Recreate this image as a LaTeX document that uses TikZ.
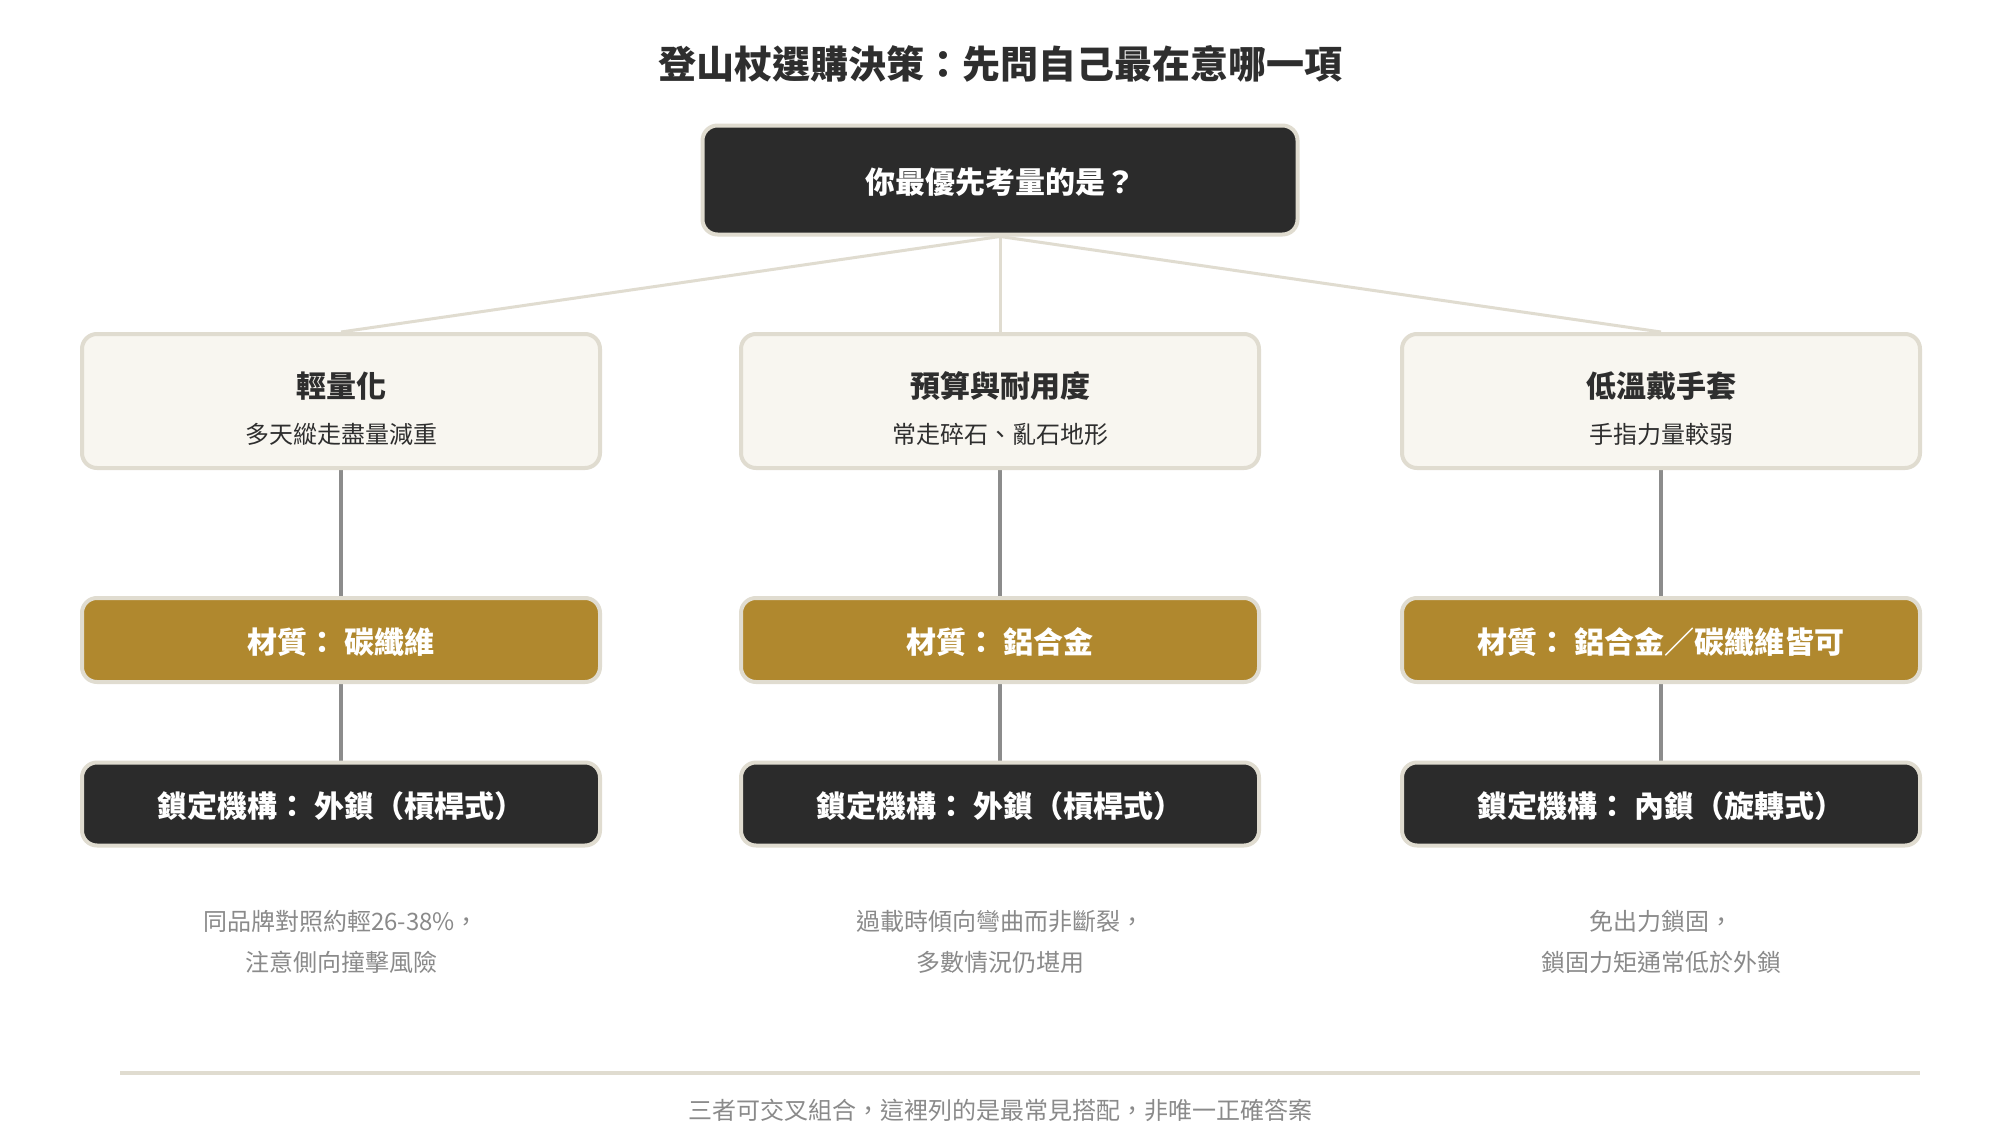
\documentclass[tikz,border=0pt]{standalone}
\usepackage{fontspec}
\setmainfont{Noto Sans CJK TC}
\usetikzlibrary{backgrounds}
\definecolor{darkbox}{HTML}{2B2B2B}
\definecolor{edgebeige}{HTML}{E0DCD0}
\definecolor{paper}{HTML}{F8F6F0}
\definecolor{gold}{HTML}{B0882E}
\definecolor{inkdark}{HTML}{2E2E2E}
\definecolor{notegray}{HTML}{8A8A8A}
\definecolor{stemgray}{HTML}{8C8C8C}
\tikzset{
  boxbase/.style={draw=edgebeige, line width=4pt, rounded corners=15pt, inner sep=0pt},
  rootbox/.style={boxbase, fill=darkbox, minimum width=595pt, minimum height=109pt},
  optbox/.style={boxbase, fill=paper, minimum width=518pt, minimum height=134pt},
  matbox/.style={boxbase, fill=gold, minimum width=518pt, minimum height=84pt},
  lockbox/.style={boxbase, fill=darkbox, minimum width=518pt, minimum height=83pt},
  boldwhite/.style={text=white, font=\fontsize{30}{35}\selectfont\bfseries, inner sep=0pt},
  opttitle/.style={text=inkdark, font=\fontsize{30}{35}\selectfont\bfseries, inner sep=0pt},
  optsub/.style={text=inkdark, font=\fontsize{24}{28}\selectfont, inner sep=0pt},
  notetext/.style={text=notegray, font=\fontsize{24}{41}\selectfont, align=center, inner sep=0pt},
  fanline/.style={draw=edgebeige, line width=3pt},
  stemline/.style={draw=stemgray, line width=3.5pt},
}
\begin{document}
\begin{tikzpicture}[x=1pt,y=-1pt]
\useasboundingbox (0,0) rectangle (2000,1140);

\node[text=inkdark, font=\fontsize{38}{44}\selectfont\bfseries, inner sep=0pt] (title) at (1000,64) {登山杖選購決策：先問自己最在意哪一項};

\node[rootbox] (root) at (1000,180) {};
\node[boldwhite] (roottxt) at (1000,182) {你最優先考量的是？};

% option boxes
\node[optbox] (o1) at (341,401) {};
\node[optbox] (o2) at (1000,401) {};
\node[optbox] (o3) at (1661,401) {};
\node[opttitle] (o1t) at (341,386) {輕量化};
\node[opttitle] (o2t) at (1000,386) {預算與耐用度};
\node[opttitle] (o3t) at (1661,386) {低溫戴手套};
\node[optsub] (o1s) at (341,434) {多天縱走盡量減重};
\node[optsub] (o2s) at (1000,434) {常走碎石、亂石地形};
\node[optsub] (o3s) at (1661,434) {手指力量較弱};

% material boxes
\node[matbox] (m1) at (341,640) {};
\node[matbox] (m2) at (1000,640) {};
\node[matbox] (m3) at (1661,640) {};
\node[boldwhite] (m1t) at (341,642) {材質： 碳纖維};
\node[boldwhite] (m2t) at (1000,642) {材質： 鋁合金};
\node[boldwhite] (m3t) at (1661,642) {材質： 鋁合金／碳纖維皆可};

% lock boxes
\node[lockbox] (k1) at (341,804) {};
\node[lockbox] (k2) at (1000,804) {};
\node[lockbox] (k3) at (1661,804) {};
\node[boldwhite] (k1t) at (341,806) {鎖定機構： 外鎖（槓桿式）};
\node[boldwhite] (k2t) at (1000,806) {鎖定機構： 外鎖（槓桿式）};
\node[boldwhite] (k3t) at (1661,806) {鎖定機構： 內鎖（旋轉式）};

% notes
\node[notetext] (n1) at (341,942) {同品牌對照約輕26-38\%，\\注意側向撞擊風險};
\node[notetext] (n2) at (1000,942) {過載時傾向彎曲而非斷裂，\\多數情況仍堪用};
\node[notetext] (n3) at (1661,942) {免出力鎖固，\\鎖固力矩通常低於外鎖};

% footer
\coordinate (fl) at (120,1073);
\coordinate (fr) at (1920,1073);
\draw[draw=edgebeige, line width=4pt] (fl) -- (fr);
\node[text=notegray, font=\fontsize{24}{28}\selectfont, inner sep=0pt] (foot) at (1000,1110) {三者可交叉組合，這裡列的是最常見搭配，非唯一正確答案};

\begin{pgfonlayer}{background}
\fill[white] (0,0) rectangle (2000,1140);
\draw[fanline] (root.south) -- (o1.north);
\draw[fanline] (root.south) -- (o2.north);
\draw[fanline] (root.south) -- (o3.north);
\draw[stemline] (o1.south) -- (m1.north);
\draw[stemline] (o2.south) -- (m2.north);
\draw[stemline] (o3.south) -- (m3.north);
\draw[stemline] (m1.south) -- (k1.north);
\draw[stemline] (m2.south) -- (k2.north);
\draw[stemline] (m3.south) -- (k3.north);
\end{pgfonlayer}
\end{tikzpicture}
\end{document}
